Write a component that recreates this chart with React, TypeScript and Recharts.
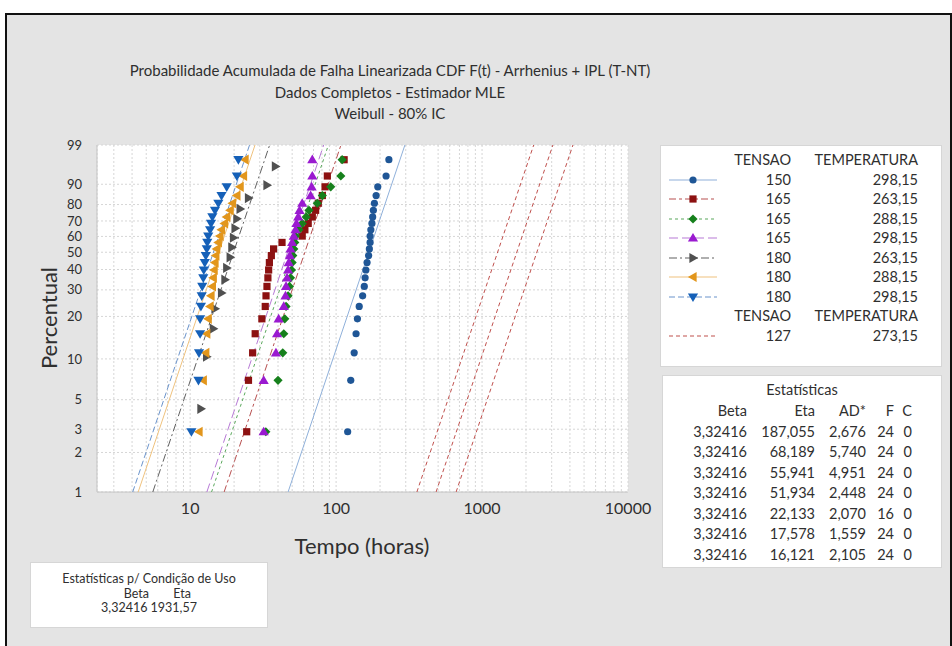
import { ScatterChart, Scatter, XAxis, YAxis, CartesianGrid } from 'recharts';

// plotting positions (median ranks, %) for n = 24 and n = 16
const pct24 = [2.87, 6.97, 11.07, 15.16, 19.26, 23.36, 27.46, 31.56, 35.66, 39.75, 43.85, 47.95, 52.05, 56.15, 60.25, 64.34, 68.44, 72.54, 76.64, 80.74, 84.84, 88.93, 93.03, 97.13];
const pct16 = [4.27, 10.37, 16.46, 22.56, 28.66, 34.76, 40.85, 46.95, 53.05, 59.15, 65.24, 71.34, 77.44, 83.54, 89.63, 95.73];

// failure times (horas)
const t150_298 = [120, 126, 133, 137, 140, 144, 152, 156, 158, 160, 163, 167, 169, 171, 171, 173, 176, 178, 180, 183, 188, 193, 220, 230];
const t165_263 = [24.4, 25.1, 26.8, 27.9, 31.0, 32.7, 33.1, 33.6, 34.1, 34.5, 34.9, 36.0, 37.3, 42.6, 58.6, 61.1, 64.4, 68.7, 72.4, 75.5, 80.5, 84.0, 87.1, 113.5];
const t165_288 = [33, 40.0, 43.1, 43.8, 44.5, 45.4, 46.9, 47.9, 48.7, 49.5, 50.0, 50.5, 51.3, 52.1, 52.7, 55.6, 58.6, 62.4, 65.2, 74.3, 80.5, 91.9, 107.7, 110];
const t165_298 = [31.9, 31.9, 38.7, 39.4, 40.4, 43.8, 45.0, 45.4, 46.1, 46.9, 47.4, 48.2, 48.7, 50.0, 51.3, 52.7, 53.5, 55.0, 56.2, 58.6, 66.9, 68.0, 68.7, 68.7];
const t180_263 = [11.85, 12.96, 14.4, 14.8, 16.4, 17.3, 17.8, 18.8, 19.3, 19.8, 20.3, 20.9, 22.0, 25.1, 33.6, 38.4];
const t180_288 = [11.5, 12.3, 12.8, 13.0, 13.3, 13.7, 13.9, 14.2, 14.4, 14.6, 14.8, 15.0, 15.2, 15.6, 16.0, 16.4, 17.2, 17.8, 18.8, 19.5, 20.9, 22.0, 23.2, 23.8];
const t180_298 = [10.2, 11.4, 11.5, 11.7, 11.7, 11.85, 12.0, 12.1, 12.3, 12.4, 12.6, 12.8, 13.0, 13.1, 13.3, 13.7, 13.9, 14.2, 14.8, 15.6, 16.4, 17.8, 20.9, 21.4];

const tensao = ['150', '165', '165', '165', '180', '180', '180'];
const temperatura = ['298,15', '263,15', '288,15', '298,15', '263,15', '288,15', '298,15'];
const beta = 3.32416;
const etas = [187.055, 68.189, 55.941, 51.934, 22.133, 17.578, 16.121];
const etaLabels = ['187,055', '68,189', '55,941', '51,934', '22,133', '17,578', '16,121'];
const adStar = ['2,676', '5,740', '4,951', '2,448', '2,070', '1,559', '2,105'];
const nFail = [24, 24, 24, 24, 16, 24, 24];

// use condition: 127 / 273,15
const useEta = 1931.57;
const useEtaBounds = [1427, 2650]; // 80% IC

const yTickLabels = ['1', '2', '3', '5', '10', '20', '30', '40', '50', '60', '70', '80', '90', '99'];
const yTickPct = [1, 2, 3, 5, 10, 20, 30, 40, 50, 60, 70, 80, 90, 99];
const xMajor = [10, 100, 1000, 10000];

const wb = (p: number) => Math.log(-Math.log(1 - p / 100));

const xGrid: number[] = [];
for (let d = 1; d <= 1000; d *= 10) {
  for (let m = 1; m <= 9; m++) if (m * d >= 3) xGrid.push(m * d);
}
xGrid.push(10000);

const styles = [
  { color: '#1f5696', line: '#8fb0da', dash: undefined, kind: 'circle' },
  { color: '#8c1111', line: '#b85050', dash: '7 3 3 3', kind: 'square' },
  { color: '#16801c', line: '#5aa85c', dash: '3 3', kind: 'diamond' },
  { color: '#9a1ad0', line: '#b77ad6', dash: '9 4', kind: 'up' },
  { color: '#505050', line: '#606060', dash: '8 3 2 3', kind: 'right' },
  { color: '#e2961c', line: '#efc27e', dash: undefined, kind: 'left' },
  { color: '#1560b8', line: '#6b94cc', dash: '6 3', kind: 'down' },
];
const useColor = '#c0504d';

const seriesTimes = [t150_298, t165_263, t165_288, t165_298, t180_263, t180_288, t180_298];
const seriesPct = [pct24, pct24, pct24, pct24, pct16, pct24, pct24];

const fitLine = (eta: number) => [
  { t: eta * Math.pow(-Math.log(0.99), 1 / beta), y: wb(1) },
  { t: eta * Math.pow(-Math.log(0.01), 1 / beta), y: wb(99) },
];

function Marker({ cx, cy, kind, color }: { cx: number; cy: number; kind: string; color: string }) {
  const r = 4.6;
  if (kind === 'circle') return <circle cx={cx} cy={cy} r={3.6} fill={color} />;
  if (kind === 'square') return <rect x={cx - 3.6} y={cy - 3.6} width={7.2} height={7.2} fill={color} />;
  if (kind === 'diamond') return <polygon points={`${cx},${cy - r} ${cx + r},${cy} ${cx},${cy + r} ${cx - r},${cy}`} fill={color} />;
  let pts = '';
  if (kind === 'up') pts = `${cx},${cy - r - 0.5} ${cx + r + 0.5},${cy + r - 1} ${cx - r - 0.5},${cy + r - 1}`;
  if (kind === 'down') pts = `${cx},${cy + r + 0.5} ${cx + r + 0.5},${cy - r + 1} ${cx - r - 0.5},${cy - r + 1}`;
  if (kind === 'right') pts = `${cx + r + 0.5},${cy} ${cx - r + 1},${cy - r - 0.5} ${cx - r + 1},${cy + r + 0.5}`;
  if (kind === 'left') pts = `${cx - r - 0.5},${cy} ${cx + r - 1},${cy - r - 0.5} ${cx + r - 1},${cy + r + 0.5}`;
  return <polygon points={pts} fill={color} />;
}

const noShape = () => <g />;
const font = 'Lato, "Open Sans", sans-serif';
const txt = '#2f2f2f';

function LegendSymbol({ i }: { i: number }) {
  const s = styles[i];
  return (
    <svg width={52} height={14} style={{ display: 'block' }}>
      <line x1={2} y1={7} x2={50} y2={7} stroke={s.line} strokeWidth={1.2} strokeDasharray={s.dash} />
      <Marker cx={26} cy={7} kind={s.kind} color={s.color} />
    </svg>
  );
}

export default function App() {
  const plot = { left: 97, top: 145, right: 628, bottom: 492 };
  const yAxisW = 45;
  const xAxisH = 30;
  return (
    <div style={{ position: 'absolute', left: 0, top: 0, width: 952, height: 646, background: '#fff', overflow: 'hidden', fontFamily: font }}>
      <div style={{ position: 'absolute', left: 5, top: 13, width: 943, height: 640, border: '2px solid #111', background: '#e4e4e4' }} />

      <div style={{ position: 'absolute', left: 90, width: 600, top: 60, textAlign: 'center', color: txt, fontSize: 15, lineHeight: '21.5px' }}>
        <div>Probabilidade Acumulada de Falha Linearizada CDF F(t) - Arrhenius + IPL (T-NT)</div>
        <div>Dados Completos - Estimador MLE</div>
        <div>Weibull - 80% IC</div>
      </div>

      <div style={{ position: 'absolute', left: 0, top: 0 }}>
        <ScatterChart
          width={952}
          height={646}
          margin={{ top: plot.top, left: plot.left - yAxisW, right: 952 - plot.right, bottom: 646 - plot.bottom - xAxisH }}
        >
          <CartesianGrid fill="#fff" stroke="#d6d6d6" strokeDasharray="2 2" />
          <XAxis
            type="number"
            dataKey="t"
            scale="log"
            domain={[2.3, 10000]}
            allowDataOverflow
            ticks={xGrid}
            interval={0}
            height={xAxisH}
            tickFormatter={(v: number) => (xMajor.includes(v) ? String(v) : '')}
            tick={{ fill: txt, fontSize: 16, fontFamily: font }}
            tickLine={false}
            axisLine={{ stroke: '#c4c4c4' }}
            tickMargin={5}
          />
          <YAxis
            type="number"
            dataKey="y"
            domain={[wb(1), wb(99)]}
            allowDataOverflow
            ticks={yTickPct.map(wb)}
            interval={0}
            width={yAxisW}
            tickFormatter={(_v: number, i: number) => yTickLabels[i]}
            tick={{ fill: txt, fontSize: 13, fontFamily: font }}
            tickLine={false}
            axisLine={{ stroke: '#c4c4c4' }}
            tickMargin={9}
          />
          {etas.map((eta, i) => (
            <Scatter
              key={'fit' + i}
              data={fitLine(eta)}
              line={{ stroke: styles[i].line, strokeWidth: 1, strokeDasharray: styles[i].dash }}
              fill={styles[i].line}
              shape={noShape}
              isAnimationActive={false}
            />
          ))}
          {[useEtaBounds[0], useEta, useEtaBounds[1]].map((eta, i) => (
            <Scatter
              key={'use' + i}
              data={fitLine(eta)}
              line={{ stroke: useColor, strokeWidth: 1, strokeDasharray: '4 3' }}
              fill={useColor}
              shape={noShape}
              isAnimationActive={false}
            />
          ))}
          {seriesTimes.map((times, i) => (
            <Scatter
              key={'pts' + i}
              data={times.map((t, k) => ({ t, y: wb(seriesPct[i][k]) }))}
              fill={styles[i].color}
              shape={(p: any) => <Marker cx={p.cx} cy={p.cy} kind={styles[i].kind} color={styles[i].color} />}
              isAnimationActive={false}
            />
          ))}
        </ScatterChart>
      </div>

      <div style={{ position: 'absolute', left: 48, top: 318, transform: 'translate(-50%, -50%) rotate(-90deg)', fontSize: 22, color: txt, whiteSpace: 'nowrap' }}>
        Percentual
      </div>
      <div style={{ position: 'absolute', left: 362, top: 545, transform: 'translate(-50%, -50%)', fontSize: 22, color: txt, whiteSpace: 'nowrap' }}>
        Tempo (horas)
      </div>

      {/* legend */}
      <div style={{ position: 'absolute', left: 660, top: 145, width: 282, height: 222, background: '#fff', border: '1px solid #d6d6d6', boxSizing: 'border-box', color: txt, fontSize: 14.5 }}>
        <div style={{ position: 'absolute', top: 4, left: 0, width: '100%' }}>
          <Row sym={null} a="TENSAO" b="TEMPERATURA" />
          {tensao.map((v, i) => (
            <Row key={i} sym={<LegendSymbol i={i} />} a={v} b={temperatura[i]} />
          ))}
          <Row sym={null} a="TENSAO" b="TEMPERATURA" />
          <Row
            sym={
              <svg width={52} height={14} style={{ display: 'block' }}>
                <line x1={2} y1={7} x2={50} y2={7} stroke={useColor} strokeWidth={1.2} strokeDasharray="4 3" />
              </svg>
            }
            a="127"
            b="273,15"
          />
        </div>
      </div>

      {/* statistics */}
      <div style={{ position: 'absolute', left: 662, top: 375, width: 280, height: 193, background: '#fff', border: '1px solid #d6d6d6', boxSizing: 'border-box', color: txt, fontSize: 14.5 }}>
        <div style={{ position: 'absolute', top: 4, left: 0, width: '100%', textAlign: 'center', lineHeight: '20px' }}>Estatísticas</div>
        <div style={{ position: 'absolute', top: 25, left: 0, width: '100%' }}>
          <StatRow cells={['Beta', 'Eta', 'AD*', 'F', 'C']} />
          {etas.map((_, i) => (
            <StatRow key={i} cells={['3,32416', etaLabels[i], adStar[i], String(nFail[i]), '0']} />
          ))}
        </div>
      </div>

      {/* use condition */}
      <div style={{ position: 'absolute', left: 30, top: 562, width: 238, height: 66, background: '#fff', border: '1px solid #d6d6d6', boxSizing: 'border-box', color: txt, fontSize: 12.5, textAlign: 'center', lineHeight: '14.5px', paddingTop: 9 }}>
        <div>Estatísticas p/ Condição de Uso</div>
        <div>
          <span style={{ display: 'inline-block', width: 42, textAlign: 'right' }}>Beta</span>
          <span style={{ display: 'inline-block', width: 42, textAlign: 'right' }}>Eta</span>
        </div>
        <div>3,32416 1931,57</div>
      </div>
    </div>
  );
}

function Row({ sym, a, b }: { sym: any; a: string; b: string }) {
  return (
    <div style={{ position: 'relative', height: 19.5, lineHeight: '19.5px' }}>
      <div style={{ position: 'absolute', left: 6, top: 3 }}>{sym}</div>
      <div style={{ position: 'absolute', right: 150, textAlign: 'right' }}>{a}</div>
      <div style={{ position: 'absolute', right: 23, textAlign: 'right' }}>{b}</div>
    </div>
  );
}

function StatRow({ cells }: { cells: string[] }) {
  const rights = [194, 126, 75, 47, 29];
  return (
    <div style={{ position: 'relative', height: 20.5, lineHeight: '20.5px' }}>
      {cells.map((c, i) => (
        <div key={i} style={{ position: 'absolute', right: rights[i] }}>{c}</div>
      ))}
    </div>
  );
}
